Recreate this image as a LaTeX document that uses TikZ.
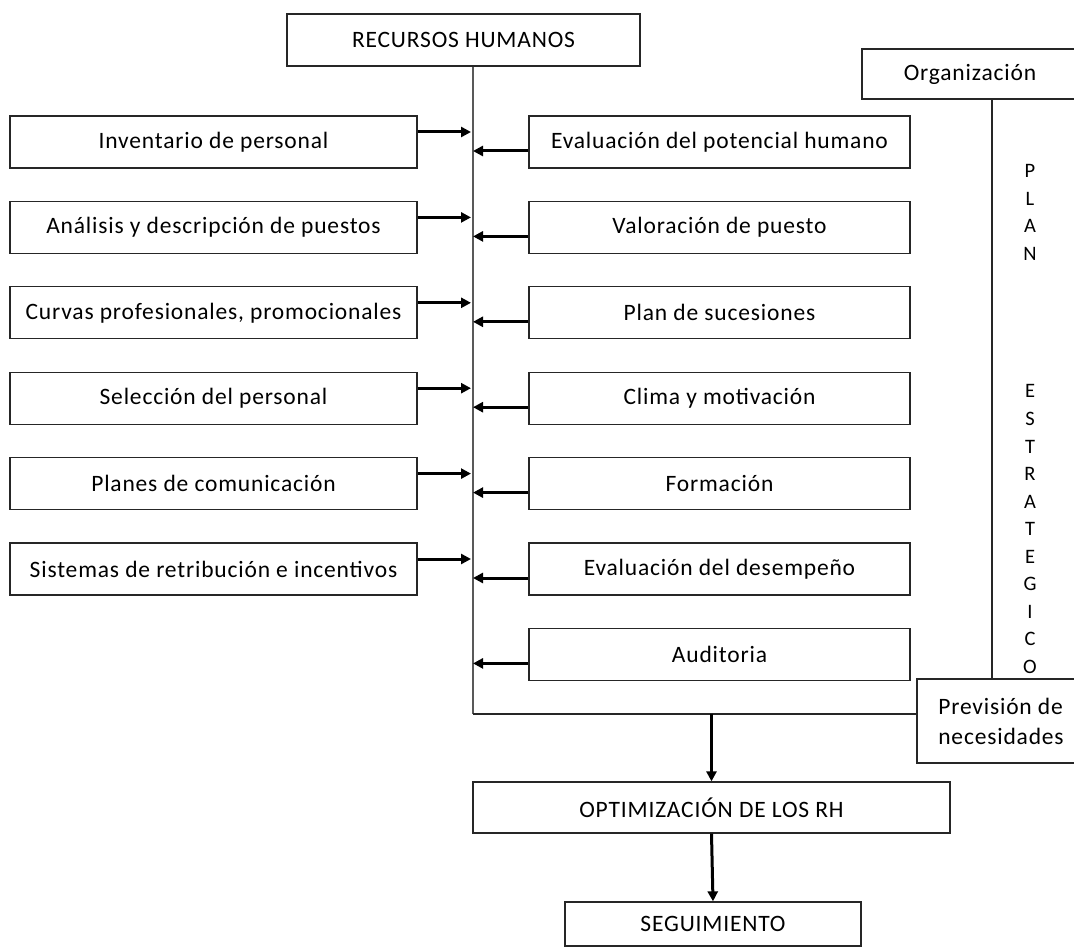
\documentclass[tikz,border=0pt]{standalone}
\usepackage{fontspec}
\setmainfont{Carlito}[LetterSpace=3.5]
\usetikzlibrary{arrows.meta}
\begin{document}
\begin{tikzpicture}[x=1pt,y=-1pt,
  box/.style={draw=black!85,line width=1.3pt,rectangle,inner sep=0pt,
    font=\fontsize{23.5}{30}\selectfont},
  lbox/.style={box,minimum width=407pt,minimum height=52pt},
  rbox/.style={box,minimum width=381pt,minimum height=52pt},
  feed/.style={line width=3pt,-{Triangle[length=10pt,width=10pt]}},
  spine/.style={draw=black!65,line width=1.5pt},
  link/.style={draw=black!85,line width=1.3pt}]
\clip (0,0) rectangle (1074,947);
\fill[white] (0,0) rectangle (1074,947);

% top and side boxes
\node[box,minimum width=353pt,minimum height=52pt] (rh) at (463.5,40) {RECURSOS HUMANOS};
\node[box,minimum width=216pt,minimum height=50pt] (org) at (970,74) {Organización};
\node[box,minimum width=168pt,minimum height=84pt,align=left] (prev) at (1001,721) {Previsión de\\necesidades};
\node[box,minimum width=477pt,minimum height=51pt] (opt) at (711.5,807.5) {OPTIMIZACIÓN DE LOS RH};
\node[box,minimum width=296pt,minimum height=44pt] (seg) at (713,924) {SEGUIMIENTO};

% left column
\node[lbox] (l1) at (213.5,142) {Inventario de personal};
\node[lbox] (l2) at (213.5,227.4) {Análisis y descripción de puestos};
\node[lbox] (l3) at (213.5,312.8) {Curvas profesionales, promocionales};
\node[lbox] (l4) at (213.5,398.2) {Selección del personal};
\node[lbox] (l5) at (213.5,483.6) {Planes de comunicación};
\node[lbox] (l6) at (213.5,569) {Sistemas de retribución e incentivos};

% right column
\node[rbox] (r1) at (719.5,142) {Evaluación del potencial humano};
\node[rbox] (r2) at (719.5,227.4) {Valoración de puesto};
\node[rbox] (r3) at (719.5,312.8) {Plan de sucesiones};
\node[rbox] (r4) at (719.5,398.2) {Clima y motivación};
\node[rbox] (r5) at (719.5,483.6) {Formación};
\node[rbox] (r6) at (719.5,569) {Evaluación del desempeño};
\node[rbox] (r7) at (719.5,654.4) {Auditoria};

% vertical label
\node[font=\fontsize{20.5}{27.56}\selectfont,align=center,inner sep=0pt] (plan) at (1030,419)
  {P\\L\\A\\N\\[110.24pt]E\\S\\T\\R\\A\\T\\E\\G\\I\\C\\O};

% spine and bottom bar
\coordinate (sp) at (473,714);
\coordinate (pl) at (992,0);
\draw[spine] (rh.south -| sp) -- (sp);
\draw[link] (sp) -- (prev.west |- sp);
\draw[link] (org.south -| pl) -- (prev.north -| pl);

% feeds into the spine
\foreach \i in {1,...,6}{
  \draw[feed] ([yshift=10pt]l\i.east) -- ([xshift=-2pt,yshift=10pt]l\i.east -| sp);
}
\foreach \i in {1,...,7}{
  \draw[feed] ([yshift=-9pt]r\i.west) -- ([yshift=-9pt]r\i.west -| sp);
}

% downward flow
\draw[feed] (opt.north |- sp) -- (opt.north);
\draw[feed] (opt.south) -- (seg.north);
\end{tikzpicture}
\end{document}
